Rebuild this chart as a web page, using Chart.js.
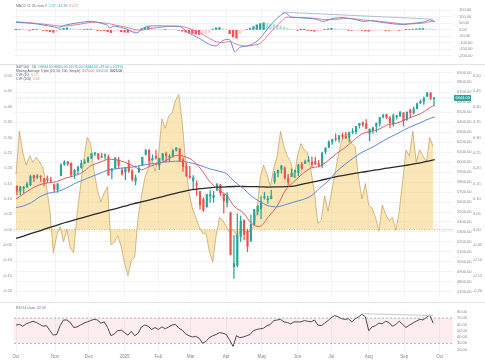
<!DOCTYPE html>
<html>
<head>
<meta charset="utf-8">
<script src="https://cdn.jsdelivr.net/npm/chart.js@4.4.1/dist/chart.umd.min.js"></script>
<style>
  html, body { margin: 0; padding: 0; background: #fff; }
  #wrap { position: relative; width: 485px; height: 360px; overflow: hidden; }
  #wrap canvas { position: absolute; left: 0; }
  .sep { position: absolute; left: 0; width: 485px; height: 1px; background: #e0e3eb; }
</style>
</head>
<body>
<div id="wrap">
  <canvas id="macd" width="485" height="65" style="top:0"></canvas>
  <canvas id="main" width="485" height="238" style="top:65px"></canvas>
  <canvas id="rsi" width="485" height="57" style="top:303px"></canvas>
  <div class="sep" style="top:64px"></div>
  <div class="sep" style="top:302px"></div>
</div>
<script>
// x axis = trading day index, 0 = 1 Oct 2024
const monthDays = [0, 23, 43, 64, 84, 103, 124, 145, 166, 186, 208, 229, 250];
const monthLabels = ['Oct', 'Nov', 'Dec', '2025', 'Feb', 'Mar', 'Apr', 'May', 'Jun', 'Jul', 'Aug', 'Sep', 'Oct'];

// S&P 500 candles, two trading days each
const opens = [5757, 5709, 5737, 5751, 5775, 5866, 5852, 5857, 5834, 5826,
  5819, 5775, 5724, 5864, 5976, 6003, 5989, 5874, 5914, 5944,
  5992, 6003, 6042, 6083, 6083, 6058, 6063, 6052, 5913, 5942,
  6024, 5921, 5903, 5982, 5910, 5812, 5905, 5969, 6078, 6118,
  6027, 6058, 5969, 6020, 6084, 6050, 6060, 6121, 6134, 6026,
  5959, 5857, 5812, 5786, 5705, 5624, 5554, 5662, 5646, 5719,
  5771, 5679, 5597, 5492, 4953, 4966, 5255, 5411, 5305, 5207,
  5381, 5507, 5534, 5645, 5625, 5633, 5807, 5891, 5929, 5941,
  5841, 5854, 5902, 5897, 5979, 5987, 6009, 6000, 6005, 5987,
  5969, 6105, 6150, 6204, 6240, 6229, 6267, 6255, 6250, 6300,
  6306, 6368, 6397, 6385, 6287, 6323, 6362, 6388, 6457, 6479,
  6446, 6384, 6457, 6463, 6494, 6428, 6521, 6495, 6537, 6594,
  6608, 6661, 6693, 6634];
const highs = [5765, 5757, 5757, 5797, 5871, 5870, 5878, 5866, 5837, 5862,
  5850, 5783, 5787, 5983, 6017, 6009, 5993, 5929, 5963, 6020,
  6025, 6053, 6089, 6100, 6089, 6092, 6085, 6071, 5935, 6049,
  6049, 5940, 5949, 6021, 5928, 5871, 5960, 6051, 6128, 6129,
  6074, 6121, 6042, 6089, 6101, 6076, 6127, 6147, 6134, 6044,
  5994, 5959, 5865, 5812, 5705, 5642, 5681, 5715, 5711, 5787,
  5777, 5680, 5695, 5500, 5267, 5481, 5460, 5425, 5328, 5469,
  5528, 5563, 5658, 5700, 5660, 5721, 5906, 5920, 5969, 5954,
  5878, 5933, 5923, 5981, 5999, 6021, 6059, 6050, 6050, 6018,
  6101, 6147, 6215, 6231, 6285, 6270, 6291, 6301, 6303, 6336,
  6360, 6389, 6402, 6427, 6335, 6352, 6395, 6449, 6481, 6481,
  6456, 6481, 6470, 6508, 6496, 6503, 6532, 6555, 6592, 6626,
  6656, 6700, 6700, 6650];
const lows = [5675, 5674, 5690, 5745, 5764, 5804, 5831, 5807, 5763, 5796,
  5805, 5702, 5696, 5864, 5971, 5968, 5853, 5835, 5881, 5938,
  5984, 5998, 6035, 6065, 6024, 6045, 6030, 5867, 5832, 5932,
  5932, 5869, 5824, 5897, 5809, 5773, 5894, 5965, 6070, 5963,
  6018, 6030, 5924, 6020, 6003, 6003, 6051, 6111, 6009, 5908,
  5858, 5837, 5732, 5667, 5528, 5505, 5547, 5597, 5598, 5719,
  5667, 5489, 5550, 5070, 4835, 4950, 5203, 5221, 5102, 5207,
  5371, 5472, 5434, 5628, 5587, 5632, 5786, 5852, 5890, 5830,
  5767, 5854, 5844, 5861, 5921, 5984, 6003, 5953, 5975, 5952,
  5943, 6085, 6146, 6177, 6211, 6201, 6235, 6237, 6202, 6286,
  6281, 6340, 6359, 6336, 6212, 6289, 6300, 6360, 6442, 6436,
  6343, 6360, 6430, 6455, 6360, 6418, 6456, 6483, 6534, 6587,
  6580, 6656, 6626, 6570];
const closes = [5709, 5751, 5751, 5780, 5859, 5842, 5864, 5851, 5809, 5823,
  5813, 5728, 5783, 5973, 6001, 5985, 5871, 5917, 5949, 5987,
  5998, 6047, 6087, 6090, 6034, 6051, 6074, 5872, 5931, 6040,
  5971, 5882, 5942, 5909, 5827, 5843, 5937, 6049, 6119, 6012,
  6039, 6041, 6038, 6084, 6066, 6052, 6115, 6144, 6013, 5955,
  5861, 5850, 5843, 5770, 5572, 5522, 5675, 5675, 5668, 5777,
  5693, 5612, 5671, 5074, 4982, 5268, 5406, 5276, 5158, 5376,
  5525, 5561, 5604, 5650, 5631, 5660, 5886, 5917, 5964, 5845,
  5803, 5889, 5912, 5970, 5939, 6006, 6022, 5977, 5983, 5968,
  6092, 6141, 6205, 6227, 6230, 6263, 6260, 6244, 6297, 6306,
  6359, 6389, 6371, 6339, 6330, 6345, 6389, 6446, 6469, 6449,
  6396, 6467, 6466, 6502, 6416, 6502, 6495, 6532, 6584, 6607,
  6632, 6693, 6638, 6644];

// moving averages (20, 50, 200)
const maDays = [0, 4, 9, 14, 19, 24, 29, 34, 39, 44, 49, 54, 59, 64, 69, 74, 79, 84, 89, 94,
  99, 104, 109, 114, 119, 124, 129, 134, 139, 144, 149, 154, 159, 164, 169, 174, 179, 184, 189, 194,
  199, 204, 209, 214, 219, 224, 229, 234, 239, 244, 247];
const ma20 = [5630, 5678, 5733, 5774, 5793, 5805, 5839, 5862, 5895, 5963, 5996, 6027, 6024, 6000, 5962, 5924, 5958, 5986, 6021, 6067,
  6059, 6019, 5932, 5810, 5727, 5669, 5551, 5493, 5384, 5356, 5456, 5559, 5721, 5806, 5884, 5942, 5958, 6015, 6086, 6145,
  6219, 6283, 6308, 6330, 6374, 6388, 6422, 6457, 6489, 6547, 6570];
const ma50 = [5545, 5559, 5594, 5653, 5688, 5703, 5735, 5780, 5817, 5852, 5885, 5920, 5934, 5943, 5952, 5968, 5982, 5992, 6003, 6009,
  6007, 5989, 5966, 5934, 5913, 5886, 5803, 5736, 5658, 5602, 5562, 5552, 5574, 5601, 5624, 5662, 5737, 5810, 5905, 5977,
  6042, 6099, 6140, 6187, 6238, 6278, 6325, 6364, 6399, 6438, 6452];
const ma200 = [5235, 5257, 5285, 5312, 5340, 5367, 5395, 5419, 5442, 5466, 5490, 5513, 5535, 5558, 5581, 5602, 5623, 5644, 5666, 5687,
  5708, 5724, 5734, 5743, 5749, 5753, 5756, 5756, 5755, 5753, 5750, 5752, 5754, 5760, 5780, 5797, 5815, 5835, 5855, 5870,
  5885, 5900, 5912, 5926, 5940, 5952, 5965, 5980, 5995, 6014, 6025];

// CVF oscillator, every second trading day
const cvf = [0.18, 0.32, 0.25, 0.21, 0.24, 0.22, 0.235, 0.22, 0.20, 0.14,
  0.06, -0.075, -0.02, 0.01, -0.04, 0.0, -0.06, -0.075, 0.05, 0.14,
  0.23, 0.30, 0.28, 0.19, 0.13, 0.09, 0.12, 0.14, -0.05, -0.04,
  -0.02, -0.055, -0.11, -0.15, -0.10, -0.09, 0.04, 0.11, 0.17, 0.20,
  0.23, 0.19, 0.24, 0.36, 0.33, 0.37, 0.38, 0.42, 0.44, 0.35,
  0.22, 0.12, 0.07, 0.04, 0.01, -0.012, -0.012, -0.07, -0.106, -0.02,
  0.04, 0.03, 0.01, -0.01, 0.0, -0.02, -0.01, 0.0, -0.01, -0.005,
  0.01, 0.06, 0.17, 0.21, 0.18, 0.14, 0.20, 0.24, 0.32, 0.27,
  0.24, 0.22, 0.17, 0.24, 0.28, 0.26, 0.25, 0.19, 0.12, 0.02,
  0.03, 0.11, 0.06, 0.12, 0.18, 0.24, 0.29, 0.31, 0.31, 0.28,
  0.27, 0.17, 0.10, 0.15, 0.08, 0.07, 0.04, -0.005, 0.08, 0.05,
  0.03, 0.04, -0.002, 0.06, 0.16, 0.26, 0.24, 0.32, 0.22, 0.26,
  0.24, 0.22, 0.30, 0.27];

// MACD (12, 26, 9)
const macdDays = [0, 10, 22, 25, 28, 36, 45, 54, 55, 58, 65, 71, 75, 78, 89, 97, 101, 108, 114, 118,
  122, 126, 129, 132, 136, 140, 144, 150, 156, 159, 162, 167, 177, 181, 187, 193, 199, 205, 209, 215,
  222, 228, 232, 240, 244, 247];
const macdLine = [58, 49, 24, 14, 33, 53, 65, 35, 14, 29, 6, -24, 12, 29, 29, 24, -18, -65, -112, -124,
  -82, -76, -170, -135, -124, -106, -65, 35, 112, 130, 100, 94, 82, 65, 88, 94, 82, 65, 70, 59,
  47, 41, 47, 59, 76, 65];
const signalLine = [62, 52, 35, 30, 28, 40, 58, 50, 47, 38, 20, 0, -2, 8, 25, 27, 16, -20, -65, -92,
  -98, -90, -105, -118, -125, -118, -105, -20, 60, 95, 95, 95, 88, 80, 78, 86, 86, 76, 72, 65,
  55, 46, 45, 52, 62, 64];
const macdHist = [2, 3, 2, 0, -1, 2, 4, 3, -3, -8,
  -14, -20, -15, 5, 12, 15, 10, 8, 4, 2,
  3, 5, 6, 2, -2, -4, -6, -15, -22, -12,
  -6, -14, -18, -20, -16, -12, -4, 10, 18, 23,
  16, 8, 3, 2, 4, 3, 2, 1, -3, -10,
  -18, -24, -28, -33, -35, -32, -28, -20, 5, 15,
  18, 10, 2, -30, -55, -65, -30, -8, 4, 12,
  25, 38, 48, 53, 50, 44, 40, 36, 30, 22,
  14, 6, 2, -1, 1, 2, -2, -6, -10, -8,
  -4, 4, 8, 12, 10, 6, 4, 2, -2, -4,
  -3, -2, -5, -8, -10, -8, -6, -3, -2, -3,
  -5, -4, -2, -3, -2, 1, 3, 6, 8, 10,
  10, 8, 7, 2];
const macdTrendDays = [157, 246];
const macdTrendValues = [136, 82];

// RSI 14, every second trading day
const rsi = [59, 60, 57, 61, 63, 65, 63, 60, 57, 58,
  50, 43, 44, 58, 67, 67, 63, 55, 56, 59,
  62, 64, 66, 68, 67, 62, 64, 55, 42, 45,
  50, 51, 47, 43, 49, 42, 46, 56, 59, 57,
  52, 55, 52, 56, 53, 56, 59, 60, 54, 51,
  45, 42, 40, 41, 38, 30, 33, 39, 42, 44,
  47, 46, 44, 35, 25, 42, 39, 40, 42, 44,
  50, 52, 53, 54, 58, 60, 66, 67, 68, 64,
  63, 61, 64, 64, 64, 66, 65, 64, 67, 59,
  58, 62, 66, 71, 74, 72, 69, 68, 69, 64,
  69, 72, 76, 72, 50, 56, 58, 62, 61, 65,
  63, 57, 60, 65, 60, 55, 59, 62, 65, 68,
  67, 71, 75, 62];
const rsiTrendDays = [204, 246];
const rsiTrendValues = [77, 74];
const rsiBands = [70, 30];

// tick labels
const priceTicks = [4700, 4800, 4900, 5000, 5100, 5200, 5300, 5400, 5500, 5600, 5700, 5800,
  5900, 6000, 6100, 6200, 6300, 6400, 6500, 6600, 6700, 6800, 6900];
const cvfTicks = [-0.20, -0.15, -0.10, -0.05, 0, 0.05, 0.10, 0.15, 0.20, 0.25, 0.30, 0.35, 0.40, 0.45, 0.50];
const macdTicks = [-200, -150, -100, -50, 0, 50, 100, 150];
const rsiTicks = [20, 30, 40, 50, 60, 70, 80];

// ---------- layout ----------
const X_MIN = -1.2, X_MAX = 257.7;
const UP = '#26a69a', DOWN = '#ef5350';
const AXIS_TEXT = '#858893';
const GRID = '#f2f3f6';
Chart.defaults.font.family = '"Liberation Sans", Arial, sans-serif';

const baseOpts = {
  responsive: false,
  animation: false,
  events: [],
  devicePixelRatio: 1,
};

function xAxis(showLabels) {
  return {
    type: 'linear', min: X_MIN, max: X_MAX, offset: false,
    afterBuildTicks: s => { s.ticks = monthDays.map(d => ({ value: d })); },
    afterFit: s => { s.height = showLabels ? 8 : 0; },
    ticks: {
      display: showLabels, autoSkip: false, maxRotation: 0, padding: 2,
      color: AXIS_TEXT, font: { size: 4.6 },
      callback: (v, i) => monthLabels[i],
    },
    grid: { color: GRID, drawTicks: false, offset: false },
    border: { display: false },
  };
}

function yAxis(o) {
  return {
    type: 'linear', position: o.position, min: o.min, max: o.max, weight: o.weight || 0,
    afterBuildTicks: s => { s.ticks = o.ticks.map(v => ({ value: v })); },
    afterFit: s => { s.width = o.width; },
    ticks: {
      autoSkip: false, padding: o.padding, color: AXIS_TEXT, font: { size: 4 },
      callback: v => v.toFixed(2),
    },
    grid: { display: !!o.grid, color: GRID, drawTicks: false },
    border: { display: false },
  };
}

// small legend texts drawn on the canvas
function legendText(lines) {
  return {
    id: 'legendText',
    afterDraw(chart) {
      const ctx = chart.ctx;
      ctx.save();
      ctx.textBaseline = 'middle';
      lines.forEach(line => {
        let x = line.x;
        ctx.font = line.size + 'px "Liberation Sans", Arial, sans-serif';
        line.parts.forEach(([text, color]) => {
          ctx.fillStyle = color;
          ctx.fillText(text, x, line.y);
          x += ctx.measureText(text).width + 2;
        });
      });
      ctx.restore();
    }
  };
}

const lastClose = closes[closes.length - 1];
const priceTag = {
  id: 'priceTag',
  afterDraw(chart) {
    const s = chart.scales.price;
    const y = s.getPixelForValue(lastClose);
    const ctx = chart.ctx;
    ctx.save();
    ctx.fillStyle = UP;
    ctx.fillRect(s.left + 1, y - 3, 17, 6);
    ctx.fillStyle = '#fff';
    ctx.font = '4px "Liberation Sans", Arial, sans-serif';
    ctx.textBaseline = 'middle';
    ctx.fillText(lastClose.toFixed(2), s.left + 2.5, y);
    ctx.restore();
  }
};

// ---------- MACD panel ----------
const histColors = macdHist.map((v, i) => {
  const prev = i > 0 ? macdHist[i - 1] : v;
  if (v >= 0) return v >= prev ? UP : '#b2dfdb';
  return v <= prev ? '#ff5252' : '#ffcdd2';
});

new Chart(document.getElementById('macd'), {
  type: 'bar',
  data: {
    datasets: [
      {
        type: 'line', data: macdTrendDays.map((d, i) => ({ x: d, y: macdTrendValues[i] })),
        borderColor: '#aebfd8', borderWidth: 1, pointRadius: 0, order: 0,
      },
      {
        type: 'line', data: macdDays.map((d, i) => ({ x: d, y: macdLine[i] })),
        borderColor: '#6f86d6', borderWidth: 1, pointRadius: 0, tension: 0.25, order: 1,
      },
      {
        type: 'line', data: macdDays.map((d, i) => ({ x: d, y: signalLine[i] })),
        borderColor: '#e0808f', borderWidth: 1, pointRadius: 0, tension: 0.25, order: 2,
      },
      {
        type: 'bar', data: macdHist.map((v, i) => ({ x: i * 2, y: v })),
        backgroundColor: histColors, barThickness: 1.7, grouped: false, order: 3,
      },
    ]
  },
  options: Object.assign({}, baseOpts, {
    layout: { padding: { left: 14, top: 1, bottom: 1, right: 0 }, autoPadding: false },
    plugins: {
      legend: { display: false }, tooltip: { enabled: false },
    },
    scales: {
      x: xAxis(false),
      y: yAxis({ position: 'right', min: -206, max: 165, ticks: macdTicks, width: 32, padding: 6, grid: true }),
    }
  }),
  plugins: [legendText([
    { x: 16, y: 6, size: 3.4, parts: [['MACD 12 26 close 9', '#6a6d78'], ['1.57', UP], ['-62.38', '#6f86d6'], ['61.22', '#e0808f']] },
  ])],
});

// ---------- main panel ----------
const candleColors = closes.map((c, i) => (c >= opens[i] ? UP : DOWN));
const candleX = closes.map((c, i) => i * 2 + 0.5);

new Chart(document.getElementById('main'), {
  type: 'bar',
  data: {
    datasets: [
      {
        type: 'line', data: [{ x: X_MIN, y: lastClose }, { x: X_MAX, y: lastClose }], yAxisID: 'price',
        borderColor: 'rgba(38,166,154,0.35)', borderWidth: 0.8, borderDash: [1, 1], pointRadius: 0, order: 0,
      },
      {
        type: 'line', data: maDays.map((d, i) => ({ x: d, y: ma20[i] })), yAxisID: 'price',
        borderColor: '#d35f5f', borderWidth: 1, pointRadius: 0, tension: 0.3, order: 1,
      },
      {
        type: 'line', data: maDays.map((d, i) => ({ x: d, y: ma50[i] })), yAxisID: 'price',
        borderColor: '#5b8ad6', borderWidth: 1, pointRadius: 0, tension: 0.3, order: 2,
      },
      {
        type: 'line', data: maDays.map((d, i) => ({ x: d, y: ma200[i] })), yAxisID: 'price',
        borderColor: '#2a2a2a', borderWidth: 1.3, pointRadius: 0, tension: 0.3, order: 3,
      },
      {
        type: 'bar', data: candleX.map((x, i) => ({ x, y: [opens[i], closes[i]] })), yAxisID: 'price',
        backgroundColor: candleColors, barThickness: 1.5, minBarLength: 1, grouped: false, order: 4,
      },
      {
        type: 'bar', data: candleX.map((x, i) => ({ x, y: [lows[i], highs[i]] })), yAxisID: 'price',
        backgroundColor: candleColors, barThickness: 0.6, grouped: false, order: 5,
      },
      {
        type: 'line', data: [{ x: X_MIN, y: 0 }, { x: X_MAX, y: 0 }], yAxisID: 'cvf',
        borderColor: '#c9a04c', borderWidth: 0.8, borderDash: [1, 1.5], pointRadius: 0, order: 6,
      },
      {
        type: 'line', data: cvf.map((v, i) => ({ x: i * 2, y: v })), yAxisID: 'cvf',
        borderColor: 'rgba(185,145,70,0.75)', borderWidth: 0.8, backgroundColor: 'rgba(247,200,95,0.45)',
        fill: 'origin', pointRadius: 0, tension: 0, order: 7,
      },
    ]
  },
  options: Object.assign({}, baseOpts, {
    layout: { padding: 0, autoPadding: false },
    plugins: {
      legend: { display: false }, tooltip: { enabled: false },
    },
    scales: {
      x: xAxis(false),
      price: yAxis({ position: 'right', weight: 0, min: 4652, max: 6910, ticks: priceTicks, width: 19, padding: 4, grid: true }),
      cvf: yAxis({ position: 'right', weight: 1, min: -0.218, max: 0.515, ticks: cvfTicks, width: 13, padding: 1 }),
      cvfLeft: yAxis({ position: 'left', min: -0.218, max: 0.515, ticks: cvfTicks, width: 14, padding: 2 }),
    }
  }),
  plugins: [priceTag, legendText([
    { x: 16, y: 2, size: 3.3, parts: [['S&P 500 · 1D', '#55585f'], ['O6634.00 H6650.00 L6570.00 C6644.00 +39.00 (+0.59%)', UP]] },
    { x: 16, y: 6, size: 3.3, parts: [['Moving Average Triple (20, 50, 200, Simple)', '#55585f'], ['6570.00', '#d35f5f'], ['6452.00', '#5b8ad6'], ['6025.00', '#2a2a2a']] },
    { x: 16, y: 10, size: 3.3, parts: [['CVF (20)', '#55585f'], ['0.27', '#c9a04c']] },
    { x: 16, y: 14, size: 3.3, parts: [['CVF (200)', '#55585f'], ['0.05', '#c9a04c']] },
  ])],
});

// ---------- RSI panel ----------
new Chart(document.getElementById('rsi'), {
  type: 'line',
  data: {
    datasets: [
      {
        data: rsiTrendDays.map((d, i) => ({ x: d, y: rsiTrendValues[i] })),
        borderColor: '#c4c8cf', borderWidth: 1, pointRadius: 0, order: 0,
      },
      {
        data: rsi.map((v, i) => ({ x: i * 2, y: v })),
        borderColor: '#4a4a4a', borderWidth: 1, pointRadius: 0, tension: 0, order: 1,
      },
      {
        data: [{ x: X_MIN, y: rsiBands[0] }, { x: X_MAX, y: rsiBands[0] }],
        borderColor: '#a3a6af', borderWidth: 0.8, borderDash: [2, 2], pointRadius: 0, fill: false, order: 3,
      },
      {
        data: [{ x: X_MIN, y: rsiBands[1] }, { x: X_MAX, y: rsiBands[1] }],
        borderColor: '#a3a6af', borderWidth: 0.8, borderDash: [2, 2], pointRadius: 0,
        fill: '-1', backgroundColor: 'rgba(242,54,69,0.09)', order: 2,
      },
    ]
  },
  options: Object.assign({}, baseOpts, {
    layout: { padding: { left: 14, top: 0, right: 0, bottom: 0 }, autoPadding: false },
    plugins: {
      legend: { display: false }, tooltip: { enabled: false },
    },
    scales: {
      x: xAxis(true),
      y: yAxis({ position: 'right', min: 16.2, max: 83.8, ticks: rsiTicks, width: 32, padding: 4 }),
    }
  }),
  plugins: [legendText([
    { x: 16, y: 5, size: 3.4, parts: [['RSI 14 close', '#6a6d78'], ['62.59', '#7e57c2']] },
  ])],
});
</script>
</body>
</html>
